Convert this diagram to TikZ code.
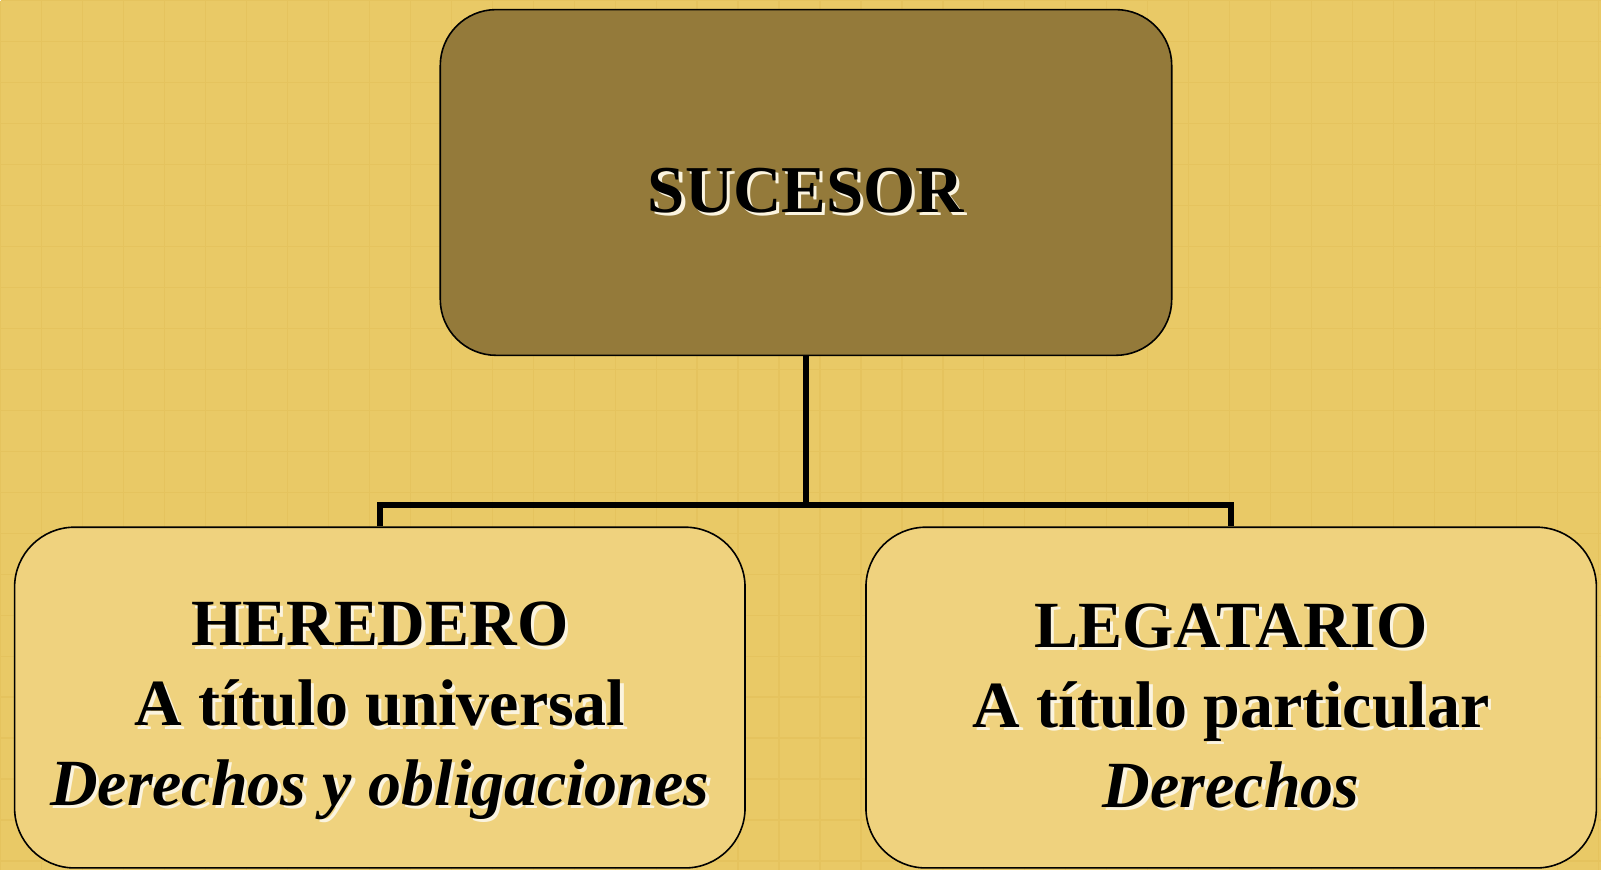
\documentclass[tikz,border=0pt]{standalone}
\usepackage{fontspec}
\setmainfont{Liberation Serif}
\usetikzlibrary{positioning}

\definecolor{fondo}{HTML}{E9C966}
\definecolor{rejillacol}{HTML}{E5C35E}
\definecolor{cafe}{HTML}{947A3A}
\definecolor{crema}{HTML}{EFD27E}

% texto con sombra clara
\newcommand{\sombra}[1]{\rlap{\hspace{1.6pt}\raisebox{-1.6pt}{\color{white!75!crema}#1}}#1}
% tres renglones centrados, con el mismo alto en ambas cajas
\newcommand{\renglones}[3]{\rule{0pt}{37pt}\sombra{#1}\\\sombra{#2}\\\sombra{\itshape #3}\rule[-7pt]{0pt}{7pt}}

\begin{document}
\begin{tikzpicture}[
    x=0.5pt, y=-0.5pt,
    raiz/.style={rectangle, rounded corners=28pt, draw=black, fill=cafe, thick,
                 minimum width=366pt, minimum height=173pt,
                 text height=29.7pt, text depth=0pt,
                 text centered, font=\fontsize{33.5}{40}\selectfont\bfseries},
    hijo/.style={rectangle, rounded corners=30pt, draw=black, fill=crema, thick,
                 minimum width=365.5pt, minimum height=170.5pt,
                 align=center, font=\fontsize{33}{40}\selectfont\bfseries},
    conector/.style={line width=3pt, draw=black},
    rejilla/.style={draw=rejillacol, line width=0.6pt}
]

% Fondo
\fill[fondo] (0,0) rectangle (1602,870);
\draw[rejilla, step=20.5pt] (0,0) grid (1602,870);
\useasboundingbox (0,0) rectangle (1602,870);

% Nodo principal
\node[raiz] (sucesor) at (806,182) {\sombra{SUCESOR}};

% Nodos hijos
\node[hijo] (heredero) at (379.5,697.5)
    {\renglones{HEREDERO}{A título universal}{Derechos y obligaciones}};
\node[hijo] (legatario) at (1231.5,697.5)
    {\renglones{LEGATARIO}{A título particular}{Derechos}};

% Conectores
\coordinate (rama) at (806,505);
\draw[conector] (sucesor.south) -- (rama);
\draw[conector] (heredero.north) |- (rama) -| (legatario.north);

\end{tikzpicture}
\end{document}
